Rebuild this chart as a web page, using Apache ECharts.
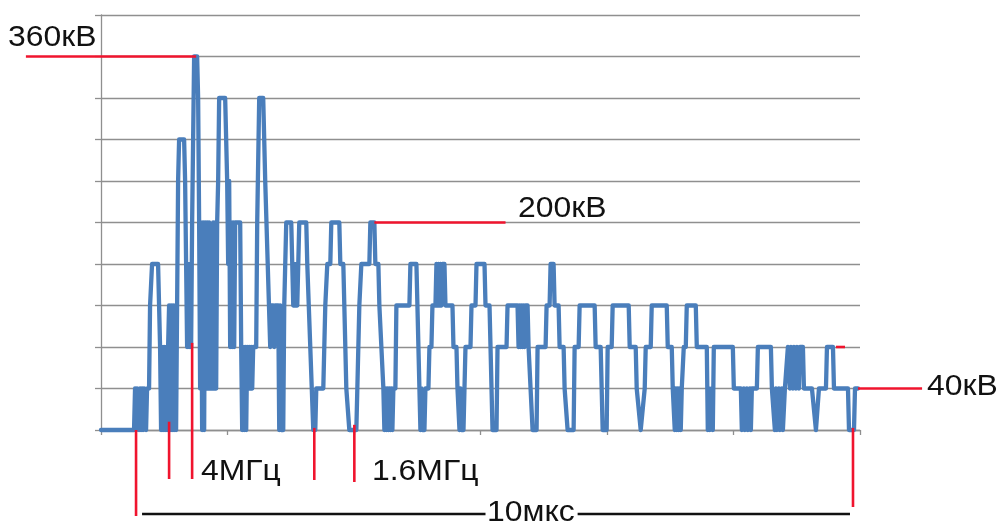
<!DOCTYPE html>
<html>
<head>
<meta charset="utf-8">
<script src="https://cdn.jsdelivr.net/npm/echarts@6/dist/echarts.min.js"></script>
<style>
html,body{margin:0;padding:0;background:#fff;}
#chart{width:1001px;height:522px;}
</style>
</head>
<body>
<div id="chart"></div>
<script>
// time samples (axis units, 0 = axis start) and voltage in kV
const timeUnits = [
0,33,34,35,36,37,38,39,40,41,42,43,44,45,46,48,49,51,57,58,59,60,61,62,63,64,65,66,67,68,69,70,71,72,73,74,75,76,77,78,83,84,85,86,87,88,89,90,91,93,96,97,98,99,100,101,102,103,104,105,106,107,108,109,110,111,112,113,114,115,116,117,118,124,125,126,127,128,129,130,131,132,133,134,139,140,141,142,143,144,145,146,147,148,149,150,151,152,155,156,158,162,163,164,169,170,172,173,174,177,178,179,180,182,183,185,190,191,192,193,194,195,196,197,198,205,206,212,214,215,222,224,226,229,230,238,239,242,243,245,248,255,256,258,260,268,269,273,274,277,278,280,282,283,284,285,286,287,288,289,290,291,292,294,295,308,309,315,316,317,318,319,320,321,323,324,327,328,330,331,334,335,336,337,338,339,340,341,343,344,351,352,355,356,358,359,360,362,363,364,369,370,374,375,383,384,388,389,390,391,395,396,405,406,416,417,418,419,420,421,422,423,424,426,427,429,431,435,436,444,445,448,449,452,453,457,458,462,463,466,472,473,477,478,493,494,499,500,501,505,506,510,511,527,528,534,535,539,543,544,549,550,565,566,570,571,573,574,575,576,577,578,579,580,582,584,585,594,595,605,606,607,608,610,611,612,631,632,639,640,642,643,645,646,648,649,650,655,656,669,670,673,674,675,677,678,680,681,683,686,688,689,691,692,694,695,697,698,701,702,710,714,717,724,725,731,732,746,747,752,753,756
];
const voltageKV = [
0,0,40,0,40,40,0,40,0,40,0,40,40,0,40,40,120,160,160,120,80,0,80,0,80,0,80,0,80,120,0,120,0,120,0,120,0,120,240,280,280,240,160,80,160,80,160,80,200,360,360,320,200,40,200,0,200,0,200,40,200,40,200,40,160,40,200,40,200,40,200,240,320,320,280,240,160,240,80,200,80,200,80,200,200,80,0,80,0,80,0,80,40,80,40,80,40,80,80,200,320,320,280,240,80,120,120,80,120,120,0,120,0,0,120,200,200,160,120,160,120,160,120,160,200,200,160,0,0,40,40,120,160,160,200,200,160,160,120,40,0,0,40,120,160,160,200,200,160,160,120,80,40,0,40,0,40,0,40,0,40,0,40,40,120,120,160,160,120,120,40,0,40,0,0,40,40,80,80,120,120,160,120,160,120,160,120,160,160,120,120,80,80,40,0,40,0,0,40,80,80,120,120,160,160,120,120,80,40,0,0,80,80,120,120,80,120,80,120,80,120,80,120,120,80,40,0,0,80,80,120,120,160,160,120,120,80,80,40,0,0,80,80,120,120,80,80,40,0,0,80,80,120,120,80,80,40,0,40,80,80,120,120,80,80,40,0,40,0,40,0,40,0,40,80,80,120,120,80,80,0,40,0,40,0,80,80,40,40,0,40,0,40,0,40,0,40,40,80,80,40,0,40,0,40,0,40,0,40,80,40,80,40,80,40,80,40,80,80,40,40,0,40,40,80,80,40,40,0,0,40,40
];
// annotation values
const levelMarks = [
  {label:'360кВ', kv:360, t0:-75, t1:95},
  {label:'200кВ', kv:200, t0:273, t1:404},
  {label:'40кВ',  kv:40,  t0:756, t1:820},
  {label:'',      kv:80,  t0:734, t1:743}
];
const timeMarks = [
  {t:35,  kv:0},
  {t:68,  kv:8},
  {t:91,  kv:84},
  {t:213, kv:2},
  {t:253, kv:5},
  {t:751, kv:2}
];
const yTicks = [0, 400, 40];
const xTicks = [0, 758, 6];

const chart = echarts.init(document.getElementById('chart'), null, {renderer:'canvas'});
const GRID = '#8f8f8f';
chart.setOption({
  animation:false,
  backgroundColor:'#ffffff',
  grid:{left:101, right:141, top:15, bottom:92, containLabel:false},
  xAxis:{
    type:'value', min:xTicks[0], max:xTicks[1], interval:(xTicks[1]-xTicks[0])/xTicks[2],
    axisLine:{show:true, lineStyle:{color:GRID, width:1.3}},
    axisTick:{show:true, length:5, lineStyle:{color:GRID, width:1.3}},
    axisLabel:{show:false},
    splitLine:{show:false}
  },
  yAxis:{
    type:'value', min:yTicks[0], max:yTicks[1], interval:yTicks[2],
    axisLine:{show:true, lineStyle:{color:GRID, width:1.3}},
    axisTick:{show:true, length:6, lineStyle:{color:GRID, width:1.3}},
    axisLabel:{show:false},
    splitLine:{show:true, lineStyle:{color:GRID, width:1.3}}
  },
  series:[{
    type:'line',
    data: timeUnits.map((t,i)=>[t, voltageKV[i]]),
    showSymbol:false,
    symbol:'none',
    clip:false,
    lineStyle:{color:'#4a7ebb', width:4.3, join:'round', cap:'round'},
    z:3
  }]
});

const px = (t)=>chart.convertToPixel({xAxisIndex:0}, t);
const py = (v)=>chart.convertToPixel({yAxisIndex:0}, v);
const RED = '#f0142e';
const FONT = '29px "Liberation Sans", Arial, sans-serif';
const g = [];
levelMarks.forEach(m=>{
  g.push({type:'line', z:10, shape:{x1:px(m.t0), y1:py(m.kv), x2:px(m.t1), y2:py(m.kv)}, style:{stroke:RED, lineWidth:2.6}});
});
const ends = [516, 479, 479, 480, 482, 507];
timeMarks.forEach((m,i)=>{
  g.push({type:'line', z:10, shape:{x1:px(m.t), y1:py(m.kv), x2:px(m.t), y2:ends[i]}, style:{stroke:RED, lineWidth:2.6}});
});
// 10 µs bar
const barY = 514;
g.push({type:'line', z:10, shape:{x1:px(41), y1:barY, x2:px(384), y2:barY}, style:{stroke:'#111', lineWidth:2.4}});
g.push({type:'line', z:10, shape:{x1:px(476), y1:barY, x2:px(748), y2:barY}, style:{stroke:'#111', lineWidth:2.4}});
function txt(s, x, y){
  g.push({type:'text', z:11, x:x, y:y, scaleX:1.1, style:{text:s, font:FONT, fill:'#111', align:'left', verticalAlign:'middle'}});
}
txt('360кВ', 8, py(360)-19);
txt('200кВ', 518, py(200)-14);
txt('40кВ', 927, py(40)-2);
txt('4МГц', 201, 472);
txt('1.6МГц', 372, 472);
txt('10мкс', 487, 513);
chart.setOption({graphic:g});
</script>
</body>
</html>
